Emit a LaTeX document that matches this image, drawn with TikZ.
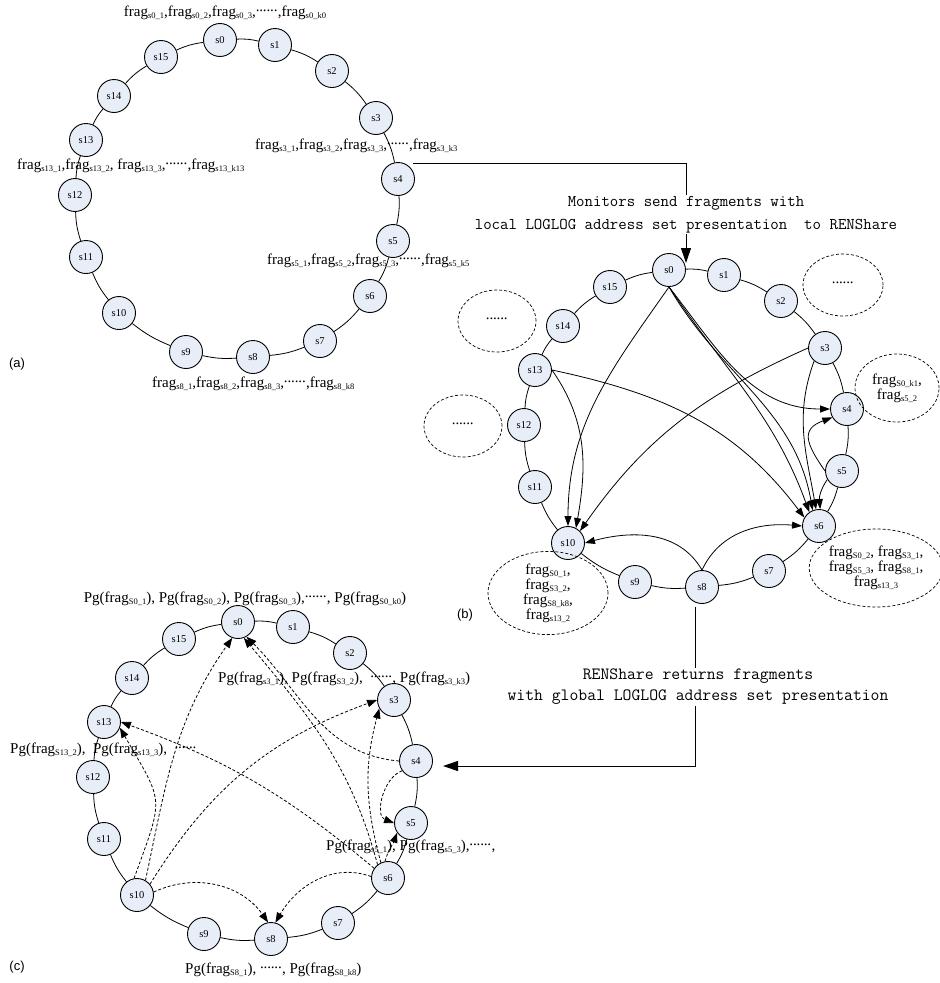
\documentclass[tikz,border=0pt]{standalone}
\usepackage{fontspec}
\setmainfont{Liberation Serif}
\newfontfamily\arialf{Liberation Sans}
\usetikzlibrary{arrows.meta,shapes.geometric}
\definecolor{nodefill}{HTML}{E8EEF8}
\newcommand\frg[1]{frag\raisebox{-2pt}{\fontsize{8.5}{9}\selectfont #1}}
\newcommand\dotsx{\hbox to 22pt{\leaders\hbox to 3.6pt{\hss\raisebox{5.5pt}{.}\hss}\hfil}}
\begin{document}
\begin{tikzpicture}[x=1pt,y=1pt,
  sn/.style={circle,draw,fill=nodefill,line width=0.9pt,minimum size=33pt,inner sep=0pt,font=\fontsize{10.5}{12}\selectfont},
  ringl/.style={line width=0.8pt},
  lab/.style={inner sep=0pt,font=\fontsize{15}{15}\selectfont},
  arr/.style={line width=0.8pt,-{Triangle[length=10pt,width=7pt]}},
  darr/.style={line width=0.8pt,dash pattern=on 3pt off 2pt,-{Triangle[length=10pt,width=7.5pt]}},
  big/.style={line width=1pt,-{Triangle[length=15pt,width=10pt]}},
  ell/.style={ellipse,draw,dash pattern=on 3pt off 2pt,line width=0.7pt,inner sep=0pt,align=center,font=\fontsize{15}{15}\selectfont},
  mono/.style={inner sep=1.5pt,align=center,fill=white},
  plab/.style={inner sep=0pt,font=\arialf\fontsize{13}{13}\selectfont}]
\useasboundingbox (0,0) rectangle (940,-983);
% three rings
\foreach \p/\sx/\sy in {a/0/0,b/449/-230,c/18/-582}{
  \begin{scope}[shift={(\sx,\sy)}]
    \foreach \i/\x/\y in {0/220/40,1/275/45,2/332/71,3/376/118,4/398/179,5/393/241,6/370/296,7/320/341,8/253/357,9/186/352,10/119/313,11/86/257,12/75/195,13/86/140,14/114/96,15/161/57}{
      \node[sn] (\p\i) at (\x,-\y) {s\i};}
    \foreach \i in {0,...,15}{
      \pgfmathtruncatemacro\j{mod(\i+1,16)}
      \draw[ringl] (\p\i) to[bend left=8] (\p\j);}
  \end{scope}
}
% (a) labels
\node[lab] (la0) at (225,-13) {\frg{s0\_1},\frg{s0\_2},\frg{s0\_3},\dotsx,\frg{s0\_k0}};
\node[lab,anchor=west] (la3) at (255,-146) {\frg{s3\_1},\frg{s3\_2},\frg{s3\_3},\dotsx,\frg{s3\_k3}};
\node[lab,anchor=west] (la13) at (17,-166) {\frg{s13\_1},\frg{s13\_2}, \frg{s13\_3},\dotsx,\frg{s13\_k13}};
\node[lab,anchor=west] (la5) at (267,-261) {\frg{s5\_1},\frg{s5\_2},\frg{s5\_3},\dotsx,\frg{s5\_k5}};
\node[lab,anchor=west] (la8) at (152,-384) {\frg{s8\_1},\frg{s8\_2},\frg{s8\_3},\dotsx,\frg{s8\_k8}};
\node[plab] (pa) at (17,-364) {(a)};
% (b) ellipses
\node[ell,minimum width=80pt,minimum height=62pt] (e1) at (843,-285) {\dotsx};
\node[ell,minimum width=78pt,minimum height=62pt] (e2) at (497,-321) {\dotsx};
\node[ell,minimum width=78pt,minimum height=62pt] (e3) at (463,-426) {\dotsx};
\node[ell,minimum width=84pt,minimum height=68pt] (e4) at (897,-388) {\frg{S0\_k1},\\\frg{s5\_2}};
\node[ell,minimum width=120pt,minimum height=82pt] (e5) at (548,-593) {\frg{S0\_1},\\\frg{S3\_2},\\\frg{S8\_k8},\\\frg{s13\_2}};
\node[ell,minimum width=127pt,minimum height=78pt] (e6) at (876,-568) {\frg{S0\_2}, \frg{S3\_1},\\\frg{S5\_3}, \frg{S8\_1},\\\frg{s13\_3}};
\node[plab] (pb) at (465,-615) {(b)};
% (b) arrows
\draw[arr] (b0.south) to[out=235,in=90] (b10.north);
\draw[arr] (b13.east) to[out=-55,in=80] (b10.62);
\draw[arr] (b3.west) to[out=204,in=55] (b10.45);
\draw[arr] (b0.south) to[out=-52,in=180] (b4.west);
\draw[arr] (b0.south) to[out=-56,in=110] (b6.125);
\draw[arr] (b0.south) to[out=-60,in=100] (b6.112);
\draw[arr] (b3.230) to[out=250,in=100] (b6.100);
\draw[arr] (b13.east) to[out=-12,in=127] (b6.150);
\draw[arr] (b5.west) to[out=125,in=200,looseness=1.6] (b4.210);
\draw[arr] (b5.210) to[out=235,in=95] (b6.86);
\draw[arr] (b8.north) to[out=120,in=15] (b10.east);
\draw[arr] (b8.north) to[out=65,in=175] (b6.west);
% (c) labels
\node[lab] (lc0) at (245,-599) {Pg(\frg{S0\_1}), Pg(\frg{S0\_2}), Pg(\frg{S0\_3}),\dotsx, Pg(\frg{S0\_k0})};
\node[lab,anchor=west] (lc3) at (218,-679) {Pg(\frg{s3\_1}), Pg(\frg{S3\_2}),~ \dotsx, Pg(\frg{s3\_k3})};
\node[lab,anchor=west] (lc13) at (10,-750) {Pg(\frg{S13\_2}),~ Pg(\frg{s13\_3}),~ \dotsx};
\node[lab,anchor=west] (lc5) at (326,-847) {Pg(\frg{s5\_1}), Pg(\frg{s5\_3}),\dotsx,};
\node[lab,anchor=west] (lc8) at (185,-970) {Pg(\frg{S8\_1}), \dotsx, Pg(\frg{S8\_k8})};
\node[plab] (pc) at (17,-967) {(c)};
% (c) arrows
\draw[darr] (c10.100) to[out=70,in=-60,looseness=1.5] (c13.-20);
\draw[darr] (c10.60) to[out=78,in=235] (c0.250);
\draw[darr] (c10.40) to[out=58,in=200] (c3.west);
\draw[darr] (c10.10) to[out=25,in=125] (c8.100);
\draw[darr] (c6.175) to[out=160,in=60] (c8.75);
\draw[darr] (c6.145) to[out=140,in=-20] (c13.east);
\draw[darr] (c6.128) to[out=105,in=-50] (c0.290);
\draw[darr] (c4.west) to[out=175,in=-45] (c0.300);
\draw[darr] (c4.215) to[out=200,in=160] (c5.west);
\draw[darr] (c6.100) to[out=75,in=250] (c5.215);
\draw[darr] (c6.115) to[out=105,in=-105] (c3.210);
% connectors between panels
\coordinate (m0) at (413,-163);
\coordinate (m2) at (686,-263);
\draw[big] (m0) -| (m2);
\coordinate (r0) at (695,-607);
\coordinate (r2) at (443,-766);
\draw[big] (r0) |- (r2);
\node[mono,font=\ttfamily\fontsize{16.4}{23}\selectfont] (t1) at (686,-214.5) {Monitors send fragments with\\local LOGLOG address set presentation~ to RENShare};
\node[mono,font=\ttfamily\fontsize{17.2}{21}\selectfont] (t2) at (698,-687) {RENShare returns fragments\\with global LOGLOG address set presentation};
\end{tikzpicture}
\end{document}
